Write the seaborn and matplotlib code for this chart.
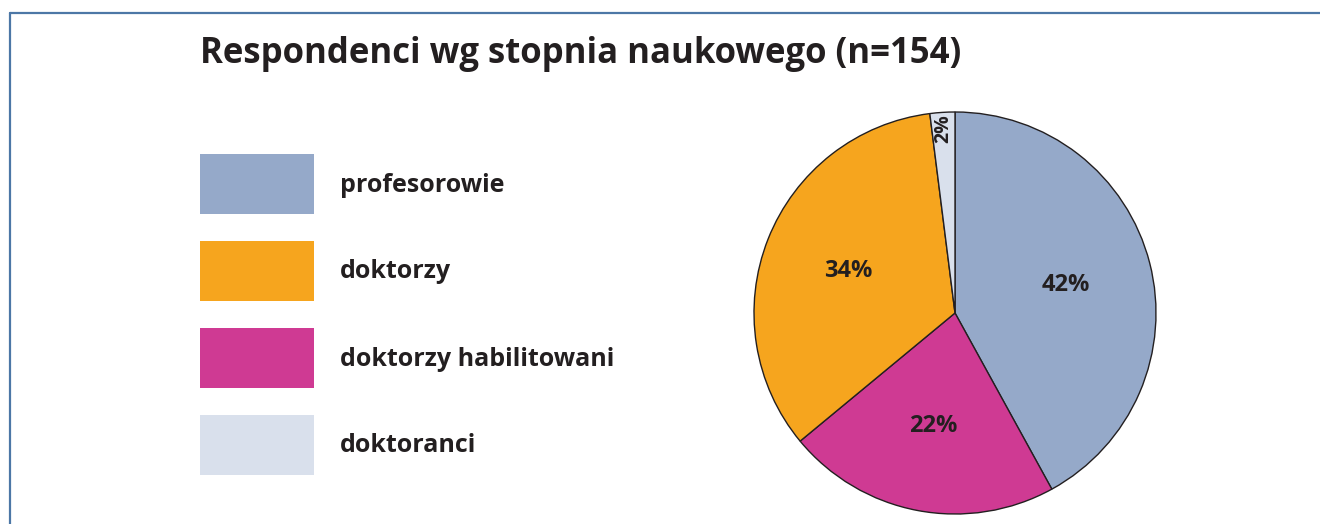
import matplotlib.pyplot as plt
import numpy as np
import seaborn as sns
from matplotlib.lines import Line2D
from matplotlib.patches import Rectangle

# data
categories = ["profesorowie", "doktorzy habilitowani", "doktorzy", "doktoranci"]
shares = [42, 22, 34, 2]
legend_order = ["profesorowie", "doktorzy", "doktorzy habilitowani", "doktoranci"]
colors = {
    "profesorowie": "#95A9C9",
    "doktorzy": "#F6A51E",
    "doktorzy habilitowani": "#CF3A93",
    "doktoranci": "#D9E0EC",
}
title = "Respondenci wg stopnia naukowego (n=154)"

sns.set_theme(style="white")
plt.rcParams["font.family"] = ["Open Sans", "DejaVu Sans"]
ink = "#231F20"

W, H = 1320, 524
fig = plt.figure(figsize=(W / 100, H / 100), dpi=100)
fig.patch.set_facecolor("white")

# overlay in pixel coordinates for title, legend and frame
bg = fig.add_axes([0, 0, 1, 1])
bg.set_xlim(0, W)
bg.set_ylim(H, 0)
bg.axis("off")

# pie axes: centre (955, 313), radius 201 px
cx, cy, r = 955, 313, 201
ax = fig.add_axes([(cx - r) / W, (H - cy - r) / H, 2 * r / W, 2 * r / H])
wedges, texts, autotexts = ax.pie(
    shares,
    colors=[colors[c] for c in categories],
    startangle=90,
    counterclock=False,
    autopct="%d%%",
    pctdistance=0.57,
    wedgeprops=dict(edgecolor=ink, linewidth=1.0),
    textprops=dict(color=ink, fontsize=17, fontweight="bold"),
)
ax.set_xlim(-1, 1)
ax.set_ylim(-1, 1)
ax.axis("off")

# small slice label: vertical, near the rim
w = wedges[-1]
mid = np.deg2rad((w.theta1 + w.theta2) / 2)
autotexts[-1].set_position((0.92 * np.cos(mid), 0.92 * np.sin(mid)))
autotexts[-1].set_rotation(90)
autotexts[-1].set_fontsize(14)

# legend: swatches and labels
for i, name in enumerate(legend_order):
    top = 154 + i * 87
    bg.add_patch(Rectangle((200, top), 114, 60, facecolor=colors[name],
                           edgecolor="none"))
    bg.text(340, top + 31, name, fontsize=18, fontweight="bold", color=ink,
            va="center", ha="left")

bg.text(200, 54, title, fontsize=25, fontweight="bold", color=ink,
        va="center", ha="left")

# frame lines (top and left)
frame = "#4C77A6"
bg.add_line(Line2D([10, W], [13, 13], color=frame, lw=1.6))
bg.add_line(Line2D([10, 10], [13, H], color=frame, lw=1.6))

fig.savefig("out.png", dpi=100)
